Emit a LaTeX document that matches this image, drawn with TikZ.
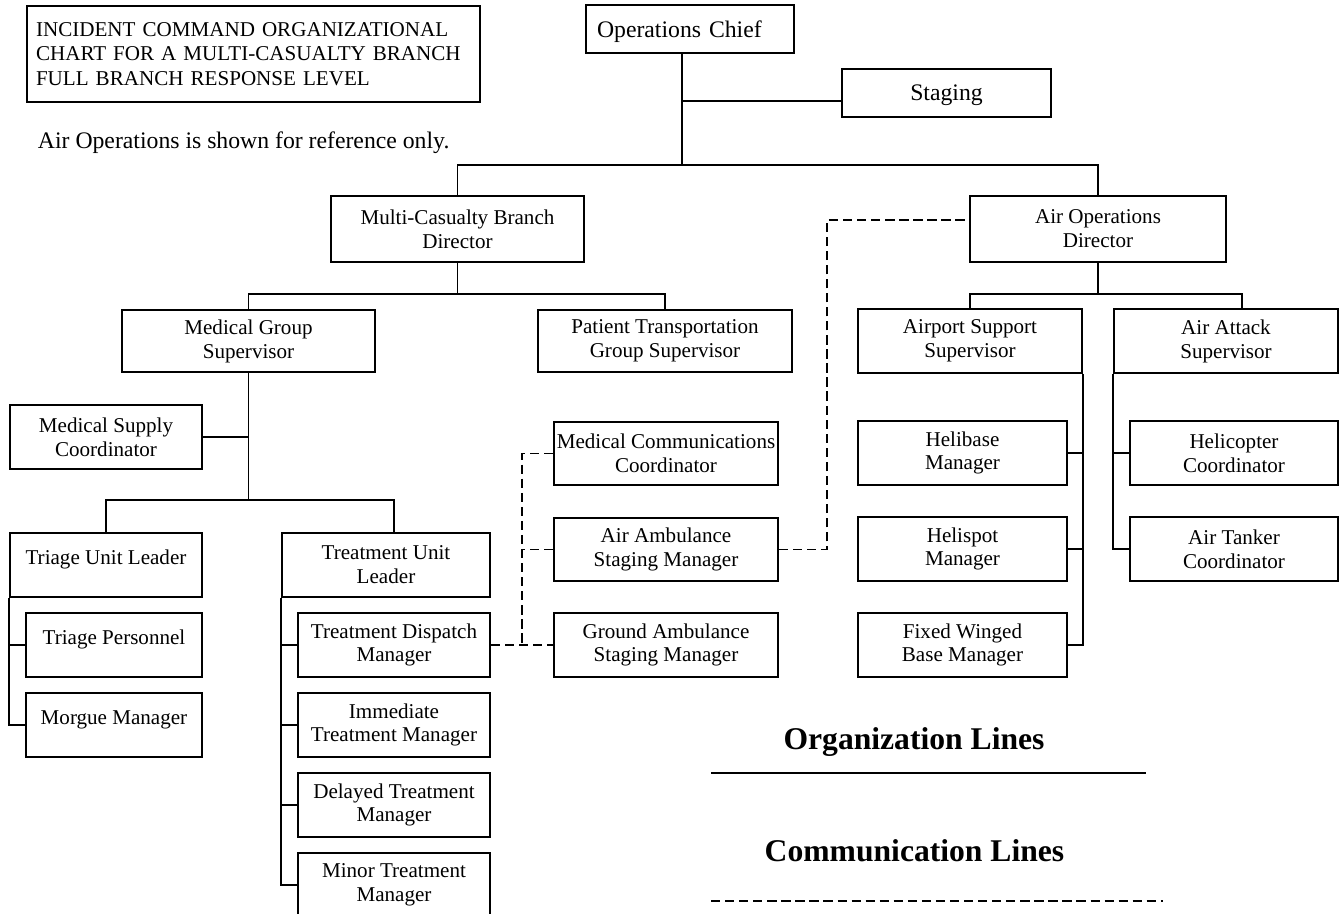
\documentclass[tikz,border=0pt]{standalone}
\usepackage{fontspec}
\setmainfont{Liberation Serif}
\usetikzlibrary{calc, positioning}
\tikzset{>=stealth}
\newcommand{\boxfont}{\fontsize{12}{13.6}\selectfont}
\newcommand{\topfont}{\fontsize{13.5}{15.5}\selectfont}
\newcommand{\titlefont}{\fontsize{12}{13.9}\selectfont}
\newcommand{\legendfont}{\fontsize{18}{21}\selectfont\bfseries}

\begin{document}
\begin{tikzpicture}[x=0.02cm, y=-0.02cm, line width=1.1pt,
  box/.style 2 args={draw, minimum width=#1*0.02cm, minimum height=#2*0.02cm,
    inner xsep=0pt, inner ysep=0pt, align=center, font=\boxfont},
  oneline/.style={text height=8pt, text depth=9pt},
  comm/.style={dash pattern=on 5.3pt off 2.7pt}]
  \useasboundingbox (0,0) rectangle (1339,913);
  \clip (0,0) rectangle (1339,913);

  % heading
  \node[box={453}{96}, anchor=north west, align=left, text width=8.7cm,
    inner xsep=0.17cm, font=\titlefont] (title) at (26,5)
    {INCIDENT COMMAND ORGANIZATIONAL\\CHART FOR A MULTI-CASUALTY BRANCH\\FULL BRANCH RESPONSE LEVEL};
  \node[anchor=base west, inner sep=0pt, font=\topfont] (note) at (37,148)
    {Air Operations is shown for reference only.};

  % top levels
  \node[box={208}{48}, font=\topfont, align=left, text width=3.72cm,
    inner xsep=0.22cm, text depth=0pt] (chief) at (690,29) {Operations Chief};
  \node[box={209}{48}, font=\topfont, text depth=0pt] (staging) at (946.5,93) {Staging};
  \node[box={253}{66}] (mcb) at (457.5,229) {Multi-Casualty Branch\\Director};
  \node[box={256}{66}] (aod) at (1098,229) {Air Operations\\Director};

  % groups
  \node[box={253}{62}] (mgs) at (248.5,341) {Medical Group\\Supervisor};
  \node[box={254}{62}] (ptgs) at (665,341) {Patient Transportation\\Group Supervisor};
  \node[box={224}{64}] (ass) at (970,341) {Airport Support\\Supervisor};
  \node[box={224}{64}] (aas) at (1226,341) {Air Attack\\Supervisor};

  % medical group
  \node[box={192}{64}] (msc) at (106,437) {Medical Supply\\Coordinator};
  \node[box={192}{64}, oneline] (tul) at (106,565) {Triage Unit Leader};
  \node[box={208}{64}] (trul) at (386,565) {Treatment Unit\\Leader};
  \node[box={176}{64}, oneline] (tp) at (114,645) {Triage Personnel};
  \node[box={176}{64}, oneline] (mm) at (114,725) {Morgue Manager};
  \node[box={192}{64}] (tdm) at (394,645) {Treatment Dispatch\\Manager};
  \node[box={192}{64}] (itm) at (394,725) {Immediate\\Treatment Manager};
  \node[box={192}{64}] (dtm) at (394,805) {Delayed Treatment\\Manager};
  \node[box={192}{64}] (mtm) at (394,885) {Minor Treatment\\Manager};

  % patient transportation
  \node[box={224}{63}] (mcc) at (666,453.5) {Medical Communications\\Coordinator};
  \node[box={224}{63}] (aasm) at (666,549.5) {Air Ambulance\\Staging Manager};
  \node[box={224}{64}] (gasm) at (666,645) {Ground Ambulance\\Staging Manager};

  % air operations
  \node[box={209}{64}] (hbm) at (962.5,453) {Helibase\\Manager};
  \node[box={209}{64}] (hsm) at (962.5,549) {Helispot\\Manager};
  \node[box={209}{64}] (fwbm) at (962.5,645) {Fixed Winged\\Base Manager};
  \node[box={208}{64}] (hc) at (1234,453) {Helicopter\\Coordinator};
  \node[box={208}{64}] (atc) at (1234,549) {Air Tanker\\Coordinator};

  % organization lines
  \coordinate (bar) at (682,165);
  \draw (chief.south -| bar) -- (bar);
  \draw (bar |- 0,101) -- (staging.west |- 0,101);
  \draw (mcb.north) |- (bar) -| (aod.north);
  \draw (mcb.south) -- ++(0,31) coordinate (mcbj);
  \draw (mgs.north) |- (mcbj) -| (ptgs.north);
  \draw (aod.south) -- ++(0,31) coordinate (aodj);
  \draw (ass.north) |- (aodj) -| ([xshift=0.32cm]aas.north);
  \draw (mgs.south) -- (mgs.south |- 0,500) coordinate (mgsj);
  \draw (msc.east) -- (msc.east -| mgsj);
  \draw (tul.north) |- (mgsj) -| ([xshift=0.16cm]trul.north);
  \draw (tul.south west) |- (mm.west);
  \draw (tp.west) -- (tp.west -| tul.west);
  \draw (trul.south west) |- (mtm.west);
  \foreach \n in {tdm,itm,dtm}
    \draw (\n.west) -- (\n.west -| trul.west);
  \draw (ass.south east) |- (fwbm.east);
  \foreach \n in {hbm,hsm}
    \draw (\n.east) -- (\n.east -| ass.east);
  \draw (aas.south west) |- (atc.west);
  \draw (hc.west) -- (hc.west -| aas.west);

  % communication lines
  \coordinate (cl) at (522,0);
  \coordinate (cr) at (827,0);
  \draw[comm] (tdm.east) -- (gasm.west);
  \draw[comm] (mcc.west) -| (cl |- gasm.west);
  \draw[comm] (aasm.west) -- (aasm.west -| cl);
  \draw[comm] (aasm.east) -| (cr |- 0,220) -- (aod.west |- 0,220);

  % legend
  \node[font=\legendfont, anchor=base] (orglab) at (914,749) {Organization Lines};
  \node[font=\legendfont, anchor=base] (commlab) at (914.5,861) {Communication Lines};
  \draw (711,773) coordinate (orgl) -- (1146,773) coordinate (orgr);
  \draw[comm] (711,901) coordinate (comml) -- (1163,901) coordinate (commr);
\end{tikzpicture}
\end{document}
